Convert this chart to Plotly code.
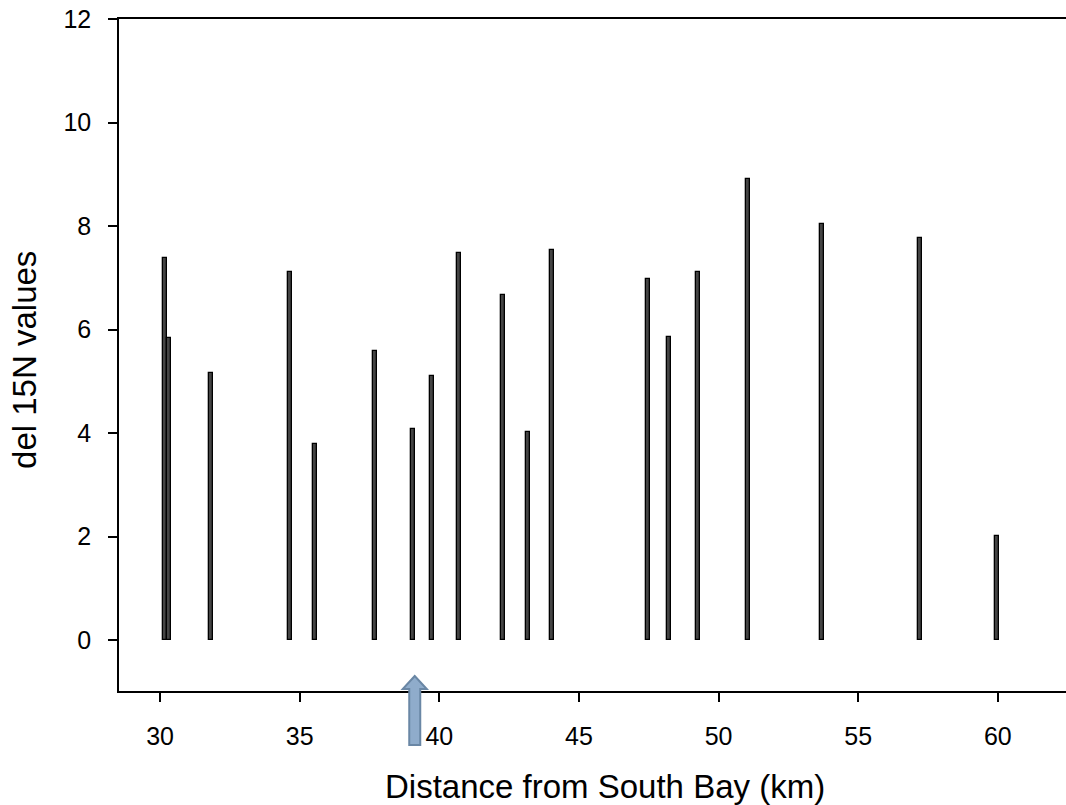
import plotly.graph_objects as go

# Data
distance_km = [30.18, 30.32, 31.83, 34.65, 35.55, 37.70, 39.06, 39.74, 40.70, 42.28,
               43.18, 44.03, 47.47, 48.22, 49.26, 51.05, 53.70, 57.21, 59.97]
del15n = [7.38, 5.84, 5.16, 7.11, 3.79, 5.58, 4.08, 5.10, 7.48, 6.67,
          4.02, 7.54, 6.98, 5.86, 7.11, 8.91, 8.04, 7.77, 2.01]
x_ticks = [30, 35, 40, 45, 50, 55, 60]
y_ticks = [0, 2, 4, 6, 8, 10, 12]
arrow_x = 39.12
x_title = "Distance from South Bay (km)"
y_title = "del 15N values"

FONT = "Liberation Sans, Arial, sans-serif"

fig = go.Figure()
fig.add_trace(go.Bar(
    x=distance_km, y=del15n, width=0.15,
    marker=dict(color="#444444", line=dict(color="#000000", width=1.3)),
    showlegend=False, hoverinfo="x+y",
))

# Arrow below the x axis (pixel-sized path anchored at data x)
fig.add_shape(
    type="path", xref="x", yref="paper",
    xsizemode="pixel", ysizemode="pixel", xanchor=arrow_x, yanchor=0,
    path="M 0 15 L -12 2 L -5.5 2 L -5.5 -54 L 5.5 -54 L 5.5 2 L 12 2 Z",
    fillcolor="#8faccb", line=dict(color="#6a87a5", width=2), layer="above",
)

# Axis titles
fig.add_annotation(text=x_title, xref="paper", yref="paper", x=0.513, y=-0.1414,
                   xanchor="center", yanchor="middle", showarrow=False,
                   font=dict(size=33, family=FONT, color="#000000"))
fig.add_annotation(text=y_title, xref="paper", yref="paper", x=-0.0993, y=0.4926,
                   xanchor="center", yanchor="middle", showarrow=False, textangle=-90,
                   font=dict(size=33, family=FONT, color="#000000"))

fig.update_layout(
    width=1066, height=805,
    margin=dict(l=119, r=0, t=19, b=114),
    paper_bgcolor="white", plot_bgcolor="white",
    font=dict(family=FONT, color="#000000", size=24),
    bargap=0,
)
fig.update_xaxes(
    range=[28.53, 62.44], tickvals=x_ticks, ticktext=[str(v) for v in x_ticks],
    showgrid=False, zeroline=False, showline=True, linecolor="black", linewidth=1.5,
    mirror=True, ticks="outside", ticklen=9, tickwidth=1.5, tickcolor="black",
    tickfont=dict(size=25, family=FONT), ticklabelstandoff=13,
)
fig.update_yaxes(
    range=[-0.985, 12], tickvals=y_ticks, ticktext=[str(v) for v in y_ticks],
    showgrid=False, zeroline=False, showline=True, linecolor="black", linewidth=1.5,
    ticks="outside", ticklen=9, tickwidth=1.5, tickcolor="black",
    tickfont=dict(size=25, family=FONT), ticklabelstandoff=12,
)

fig.write_html("out.html")
